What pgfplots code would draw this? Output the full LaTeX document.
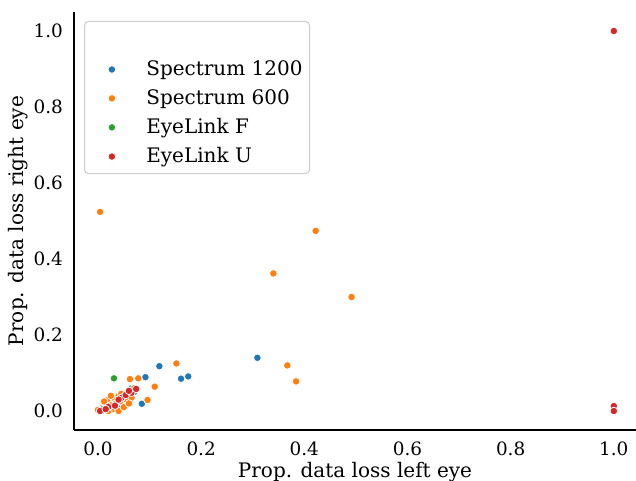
\documentclass[border=0pt]{standalone}
\usepackage{fontspec}
\setmainfont{DejaVu Serif}
\usepackage{pgfplots}
\pgfplotsset{compat=1.18}
\definecolor{tabblue}{HTML}{1F77B4}
\definecolor{taborange}{HTML}{FF7F0E}
\definecolor{tabgreen}{HTML}{2CA02C}
\definecolor{tabred}{HTML}{D62728}
\begin{document}
\begin{tikzpicture}
\useasboundingbox (-37pt,-25.5pt) rectangle (281pt,215pt);
\begin{axis}[
  scale only axis,
  width=281pt, height=209pt,
  xmin=-0.0465, xmax=1.043,
  ymin=-0.05, ymax=1.05,
  axis x line*=bottom, axis y line*=left,
  axis line style={line width=0.6pt, -},
  major tick length=0pt,
  xtick={0,0.2,0.4,0.6,0.8,1.0},
  ytick={0,0.2,0.4,0.6,0.8,1.0},
  /pgf/number format/assume math mode=true,
  /pgf/number format/fixed, /pgf/number format/fixed zerofill,
  /pgf/number format/precision=1,
  font=\fontsize{10}{12}\selectfont,
  tick label style={font=\fontsize{9.2}{11}\selectfont},
  xticklabel style={yshift=-2.5pt},
  yticklabel style={xshift=-2pt},
  xlabel={Prop. data loss left eye},
  ylabel={Prop. data loss right eye},
  every axis x label/.style={at={(axis description cs:0.5,-0.1005)}, anchor=center},
  every axis y label/.style={at={(axis description cs:-0.0996,0.5)}, rotate=90, anchor=center},
  clip=false,
  legend cell align=left,
  legend image code/.code={\draw[#1] plot coordinates {(0pt,0pt)}; \path (-12pt,0pt) (15pt,0pt);},
  legend style={at={(axis description cs:0.0178,0.9785)}, anchor=north west,
    draw=black!20, line width=0.5pt, rounded corners=2pt, fill=white,
    row sep=1.5pt, inner xsep=1.5pt, inner ysep=2pt},
]
\addlegendimage{empty legend}
\addlegendentry{\rule[-2.3pt]{0pt}{10.85pt}}
\addplot[only marks, mark=*, mark size=1.9pt, draw=white, line width=0.4pt, fill=tabblue] coordinates {
(0.309,0.140) (0.119,0.118) (0.092,0.089) (0.161,0.085) (0.175,0.091) (0.085,0.019)
(0.060,0.055) (0.045,0.010) (0.020,0.005) (0.050,0.030) (0.065,0.060) (0.010,0.002)
(0.035,0.025) (0.070,0.050)
};
\addlegendentry{Spectrum 1200}
\addplot[only marks, mark=*, mark size=1.9pt, draw=white, line width=0.4pt, fill=taborange] coordinates {
(0.004,0.524) (0.422,0.474) (0.340,0.362) (0.4915,0.300) (0.367,0.120) (0.384,0.078)
(0.152,0.125) (0.110,0.064) (0.062,0.084) (0.078,0.086) (0.096,0.029)
(0.000,0.003) (0.010,0.010) (0.015,0.020) (0.020,0.030) (0.025,0.015) (0.030,0.035)
(0.035,0.020) (0.040,0.040) (0.045,0.025) (0.050,0.045) (0.055,0.030) (0.060,0.050)
(0.065,0.035) (0.070,0.060) (0.030,0.005) (0.040,0.000) (0.020,0.000) (0.050,0.010)
(0.060,0.020) (0.045,0.045) (0.012,0.025) (0.025,0.040)
};
\addlegendentry{Spectrum 600}
\addplot[only marks, mark=*, mark size=1.9pt, draw=white, line width=0.4pt, fill=tabgreen] coordinates {
(0.031,0.086) (0.020,0.010) (0.010,0.005)
};
\addlegendentry{EyeLink F}
\addplot[only marks, mark=*, mark size=1.9pt, draw=white, line width=0.4pt, fill=tabred] coordinates {
(1.000,1.000) (1.000,0.013) (1.000,0.000) (0.004,0.000) (0.020,0.011) (0.033,0.014)
(0.046,0.035) (0.054,0.042) (0.065,0.048) (0.074,0.058) (0.040,0.030) (0.060,0.053)
(0.015,0.005)
};
\addlegendentry{EyeLink U}
\end{axis}
\end{tikzpicture}
\end{document}
